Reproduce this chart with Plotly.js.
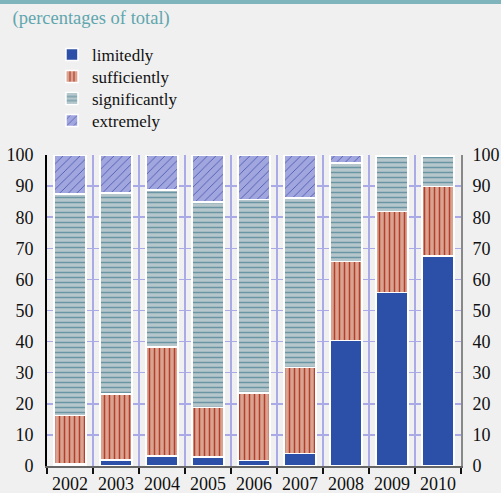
<!DOCTYPE html>
<html>
<head>
<meta charset="utf-8">
<script src="https://cdn.plot.ly/plotly-3.0.1.min.js"></script>
<style>
html,body{margin:0;padding:0;background:#f0f0f0;}
#chart{width:501px;height:493px;}
</style>
</head>
<body>
<div id="chart"></div>
<script>
const years = ['2002','2003','2004','2005','2006','2007','2008','2009','2010'];
const limitedly = [0.7, 2.0, 3.2, 2.9, 1.8, 4.0, 40.3, 55.8, 67.6];
const sufficiently = [15.6, 21.1, 35.1, 15.9, 21.7, 27.7, 25.4, 26.1, 22.2];
const significantly = [71.1, 64.7, 50.5, 66.1, 62.2, 54.5, 31.8, 17.8, 9.9];
const extremely = [12.6, 12.2, 11.2, 15.1, 14.3, 13.8, 2.5, 0.3, 0.3];
const yTicks = [0,10,20,30,40,50,60,70,80,90,100];

const serif = "'Liberation Serif', 'Times New Roman', serif";
const outline = {color:'#ffffff', width:1.5};

const traces = [
  {type:'bar', name:'limitedly', x:years, y:limitedly, legend:'legend',
   marker:{color:'#2c4fa7', line:outline}},
  {type:'bar', name:'sufficiently', x:years, y:sufficiently, legend:'legend2',
   marker:{color:'#d9a390', line:outline,
     pattern:{shape:'|', bgcolor:'#d9a390', fgcolor:'#b53f2d', size:5, solidity:0.3, fillmode:'replace'}}},
  {type:'bar', name:'significantly', x:years, y:significantly, legend:'legend3',
   marker:{color:'#b6c7cc', line:outline,
     pattern:{shape:'-', bgcolor:'#b6c7cc', fgcolor:'#6a95a3', size:5, solidity:0.3, fillmode:'replace'}}},
  {type:'bar', name:'extremely', x:years, y:extremely, legend:'legend4',
   marker:{color:'#a2a6de', line:outline,
     pattern:{shape:'/', bgcolor:'#a2a6de', fgcolor:'#4a5bb3', size:6, solidity:0.15, fillmode:'replace'}}},
  // invisible helper so the right-hand axis is drawn
  {type:'scatter', mode:'lines', x:years, y:limitedly, yaxis:'y2', opacity:0,
   showlegend:false, hoverinfo:'skip', line:{width:0}}
];

function leg(y){
  return {x:0.012, xref:'paper', xanchor:'left', y:y, yref:'paper', yanchor:'top',
    traceorder:'normal', bgcolor:'rgba(0,0,0,0)', font:{family:serif, size:17, color:'#111'},
    tracegroupgap:0, itemwidth:30};
}

const layout = {
  width:501, height:493,
  paper_bgcolor:'#f0f0f0', plot_bgcolor:'#f0f0f0',
  margin:{l:47, r:40, t:155, b:27, pad:0, autoexpand:false},
  barmode:'stack', bargap:0.3,
  font:{family:serif, size:18, color:'#111'},
  title:{text:'(percentages of total)', font:{family:serif, size:18.5, color:'#5fa6ae'},
    xref:'container', yref:'container', x:0.025, xanchor:'left', y:0.965, yanchor:'middle'},
  showlegend:true,
  legend:leg(1.3794),
  legend2:leg(1.3087),
  legend3:leg(1.2379),
  legend4:leg(1.1672),
  xaxis:{type:'category', tickson:'boundaries', showgrid:true, gridcolor:'#aaabe6', gridwidth:1.5,
    showline:true, linecolor:'#666', linewidth:2, ticks:'outside', ticklen:6, tickwidth:2, tickcolor:'#111',
    tickangle:0, tickfont:{family:serif, size:18, color:'#111'}, zeroline:false, fixedrange:true},
  yaxis:{range:[0,100], tickvals:yTicks, showgrid:true, gridcolor:'#aaabe6', gridwidth:1.5,
    showline:true, linecolor:'#000', linewidth:2, ticks:'', ticklabelstandoff:8, zeroline:false,
    tickfont:{family:serif, size:18, color:'#111'}},
  yaxis2:{range:[0,100], tickvals:yTicks, overlaying:'y', side:'right', anchor:'x', showgrid:false,
    showline:true, linecolor:'#888', linewidth:2, ticks:'', ticklabelstandoff:6, zeroline:false,
    tickfont:{family:serif, size:18, color:'#111'}},
  shapes:[{type:'rect', xref:'paper', yref:'paper', x0:-0.2, x1:1.2,
    y0:(466-4)/311, y1:(466+2)/311, fillcolor:'#80b4bd', line:{width:0}, layer:'above'}]
};

Plotly.newPlot('chart', traces, layout, {displayModeBar:false, staticPlot:true});
</script>
</body>
</html>
